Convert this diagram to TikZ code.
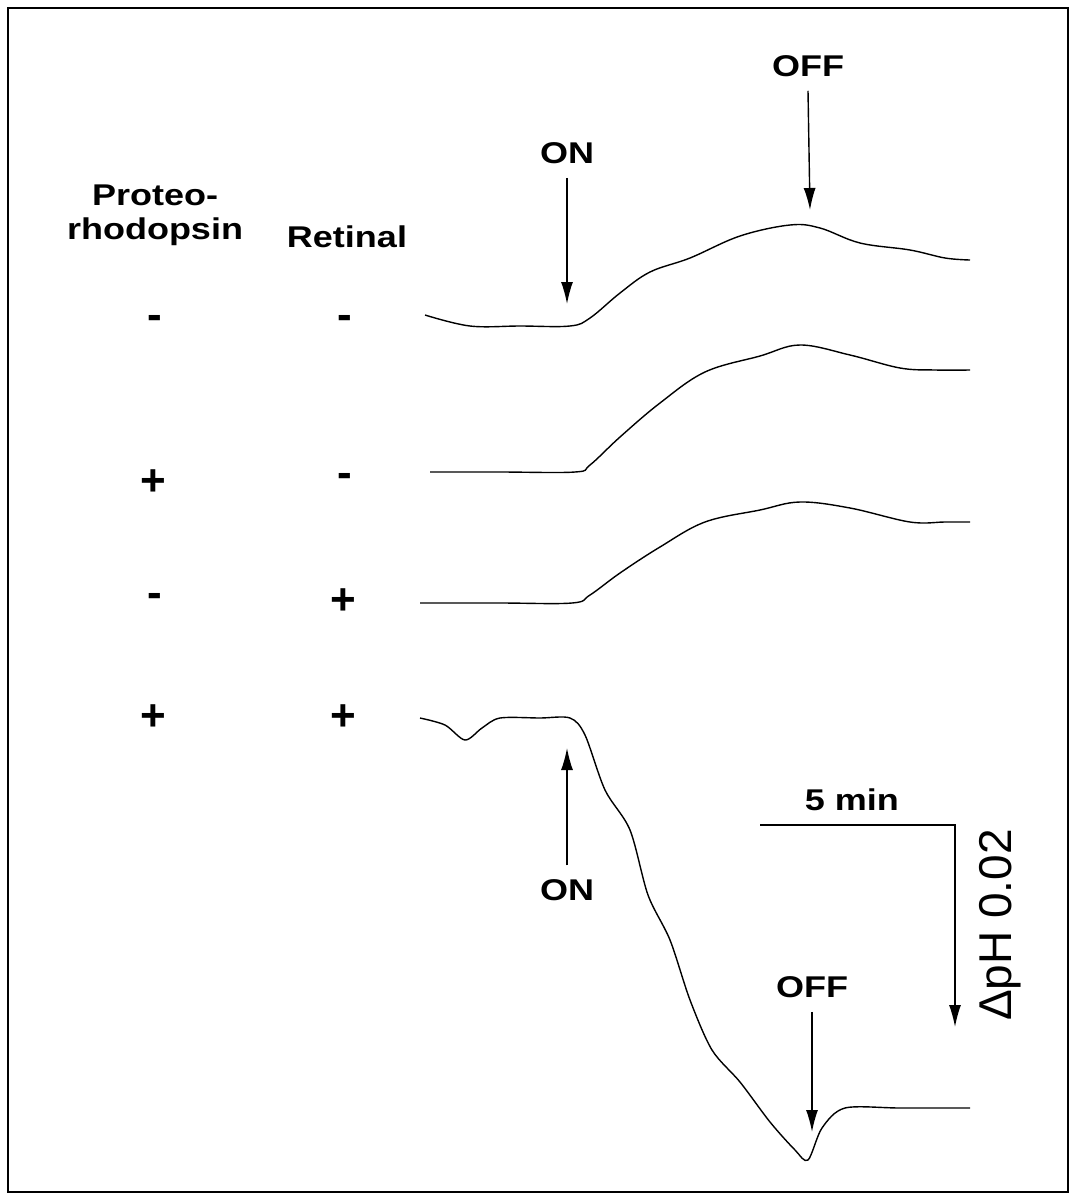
\documentclass[tikz,border=0pt]{standalone}
\usepackage{fontspec}
\setmainfont{Liberation Sans}
\newfontfamily\widefont[FakeStretch=1.2]{Liberation Sans}
\usetikzlibrary{arrows.meta}
\begin{document}
\begin{tikzpicture}[x=1pt,y=-1pt,every path/.style={line width=1.6pt},
  lbl/.style={font=\widefont\fontsize{30}{34}\selectfont\bfseries,align=center},
  sgn/.style={font=\fontsize{44}{44}\selectfont\bfseries},
  trace/.style={line width=1.4pt},
  stim/.style={-{Latex[length=22pt,width=12pt]},line width=1.4pt}]
\useasboundingbox (0,0) rectangle (1076,1200);
\draw[line width=2.5pt] (8,8) rectangle (1068,1192);
% column heads
\node[lbl] (prot) at (155,215) {Proteo-\\rhodopsin};
\node[lbl] (ret) at (347,237) {Retinal};
% signs
\node[sgn] (p1) at (155,322) {-};
\node[sgn] (r1) at (345,322) {-};
\node[sgn] (p2) at (153,483) {+};
\node[sgn] (r2) at (345,480) {-};
\node[sgn] (p3) at (155,600) {-};
\node[sgn] (r3) at (343,602) {+};
\node[sgn] (p4) at (153,718) {+};
\node[sgn] (r4) at (343,718) {+};
% traces
\draw[trace] plot[smooth,tension=0.6] coordinates {(425,315) (470,326) (520,326) (570,326) (590,318) (620,293) (650,272) (690,258) (740,236) (790,225) (820,228) (860,243) (910,250) (945,258) (970,260)};
\draw[trace] plot[smooth,tension=0.6] coordinates {(430,472) (500,472) (575,472) (590,465) (620,437) (660,403) (705,372) (760,356) (800,345) (850,355) (900,368) (935,370) (970,370)};
\draw[trace] plot[smooth,tension=0.6] coordinates {(420,603) (500,603) (572,603) (590,595) (620,573) (660,547) (705,522) (760,510) (800,502) (850,508) (910,522) (945,522) (970,522)};
\draw[trace] plot[smooth,tension=0.5] coordinates {(420,718) (445,725) (465,740) (482,728) (500,718) (540,718) (570,718) (585,735) (605,790) (630,830) (648,895) (670,940) (690,1000) (712,1050) (740,1082) (770,1122) (795,1150) (808,1160) (822,1128) (845,1108) (900,1108) (970,1108)};
% stimulus marks
\node[lbl] (on1) at (567,153) {ON};
\node[lbl] (off1) at (808,66) {OFF};
\node[lbl] (on2) at (567,890) {ON};
\node[lbl] (off2) at (812,987) {OFF};
\coordinate (on1e) at (567,304);
\coordinate (off1e) at (810,210);
\coordinate (on2e) at (567,748);
\coordinate (off2e) at (812,1132);
\draw[stim] (on1.south) ++(0,10) -- (on1e);
\draw[stim] (off1.south) ++(0,10) -- (off1e);
\draw[stim] (on2.north) ++(0,-10) -- (on2e);
\draw[stim] (off2.south) ++(0,10) -- (off2e);
% scale bar
\node[lbl] (tmin) at (852,800) {5 min};
\coordinate (sb0) at (760,825);
\coordinate (sb1) at (955,825);
\coordinate (sb2) at (955,1027);
\draw[stim] (sb0) -- (sb1) -- (sb2);
\node[font=\fontsize{46}{46}\selectfont,rotate=90] (dph) at (1000,925) {ΔpH 0.02};
\end{tikzpicture}
\end{document}
